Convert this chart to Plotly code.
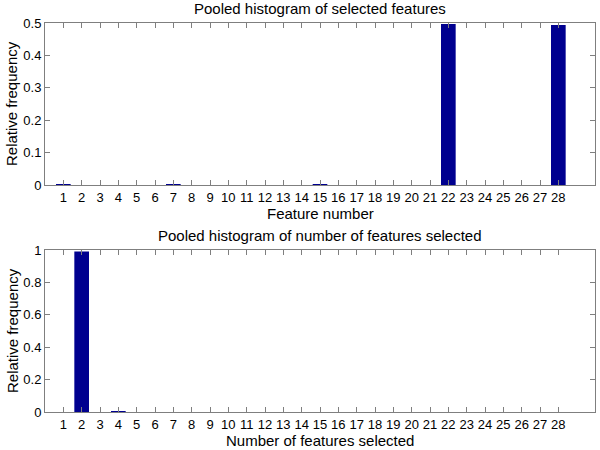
import plotly.graph_objects as go

# data
feature_numbers = list(range(1, 29))
feature_freq = [0.003, 0, 0, 0, 0, 0, 0.003, 0, 0, 0, 0, 0, 0, 0,
                0.003, 0, 0, 0, 0, 0, 0, 0.497, 0, 0, 0, 0, 0, 0.494]

n_selected = list(range(1, 29))
n_selected_freq = [0, 0.99, 0, 0.005] + [0] * 24

bar_color = "#00008F"
font = dict(family="Liberation Sans, Arial, sans-serif", size=15, color="black")
tick_font = dict(family="Liberation Sans, Arial, sans-serif", size=13, color="black")

fig = go.Figure()
fig.add_trace(go.Bar(x=feature_numbers, y=feature_freq, width=0.8,
                     marker=dict(color=bar_color, line=dict(width=0)),
                     xaxis="x", yaxis="y"))
fig.add_trace(go.Bar(x=n_selected, y=n_selected_freq, width=0.8,
                     marker=dict(color=bar_color, line=dict(width=0)),
                     xaxis="x2", yaxis="y2"))

axis_common = dict(showline=True, linecolor="#7f7f7f", linewidth=1, mirror="ticks",
                   ticks="inside", ticklen=5, tickcolor="#7f7f7f", showgrid=False,
                   zeroline=False, tickfont=tick_font, tickangle=0, automargin=False)

x_dom = [45 / 600, 595 / 600]
top_dom = [1 - 185 / 450, 1 - 23 / 450]
bot_dom = [1 - 412 / 450, 1 - 250 / 450]

fig.update_layout(
    width=600, height=450,
    margin=dict(l=0, r=0, t=0, b=0),
    paper_bgcolor="white", plot_bgcolor="white",
    showlegend=False, font=font,
    xaxis=dict(axis_common, domain=x_dom, range=[0, 30], tickvals=feature_numbers, anchor="y"),
    yaxis=dict(axis_common, domain=top_dom, range=[0, 0.5],
               tickvals=[0, 0.1, 0.2, 0.3, 0.4, 0.5], ticktext=["0", "0.1", "0.2", "0.3", "0.4", "0.5"],
               anchor="x"),
    xaxis2=dict(axis_common, domain=x_dom, range=[0, 30], tickvals=n_selected, anchor="y2"),
    yaxis2=dict(axis_common, domain=bot_dom, range=[0, 1],
                tickvals=[0, 0.2, 0.4, 0.6, 0.8, 1], ticktext=["0", "0.2", "0.4", "0.6", "0.8", "1"],
                anchor="x2"),
)

# titles and axis labels as annotations for exact placement
labels = [
    ("Pooled histogram of selected features", 320, 8, 0),
    ("Pooled histogram of number of features selected", 320, 235, 0),
    ("Feature number", 320, 214, 0),
    ("Number of features selected", 320, 440, 0),
    ("Relative frequency", 12, 104, -90),
    ("Relative frequency", 12, 331, -90),
]
for text, px, py, ang in labels:
    fig.add_annotation(text=text, x=px / 600, y=1 - py / 450, xref="paper", yref="paper",
                       showarrow=False, font=font, textangle=ang,
                       xanchor="center", yanchor="middle")

# drop the default page margin so the figure sits at the window's corner
fig.write_html("out.html", config={"displayModeBar": False},
               post_script="document.body.style.margin='0px';")
